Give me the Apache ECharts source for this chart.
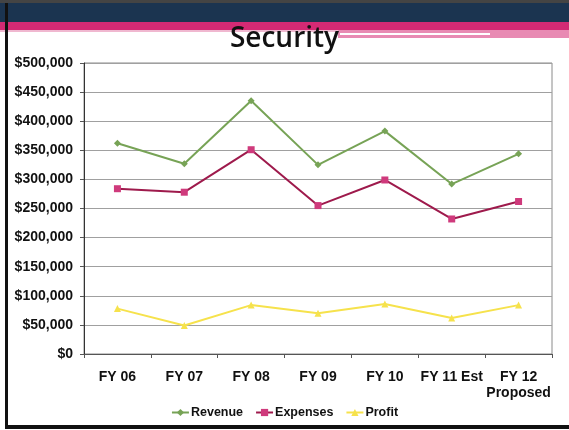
<!DOCTYPE html>
<html>
<head>
<meta charset="utf-8">
<script src="https://cdn.jsdelivr.net/npm/echarts@6/dist/echarts.min.js"></script>
<style>
html,body{margin:0;padding:0;background:#fff;}
#c{width:569px;height:430px;}
</style>
</head>
<body>
<div id="c"></div>
<script>
const categories = ['FY 06', 'FY 07', 'FY 08', 'FY 09', 'FY 10', 'FY 11 Est', 'FY 12\nProposed'];
const revenue  = [362000, 327000, 435000, 325000, 383000, 292000, 344000];
const expenses = [284000, 278000, 351000, 255000, 299000, 232000, 262000];
const profit   = [78000, 49000, 84000, 70000, 86000, 62000, 84000];
const yTicks = { min: 0, max: 500000, interval: 50000 };

const chart = echarts.init(document.getElementById('c'), null, { renderer: 'canvas' });

function money(v) {
  return '$' + String(v).replace(/\B(?=(\d{3})+(?!\d))/g, ',');
}

chart.setOption({
  backgroundColor: '#ffffff',
  animation: false,
  title: {
    text: 'Security',
    left: 'center',
    top: 20,
    z: 50,
    textStyle: { fontFamily: 'Open Sans', fontSize: 28, fontWeight: 600, color: '#111' }
  },
  graphic: [
    { type: 'rect', z: 1, shape: { x: 0, y: 0, width: 569, height: 3 }, style: { fill: '#444' } },
    { type: 'rect', z: 1, shape: { x: 0, y: 3, width: 569, height: 19 }, style: { fill: '#1b3450' } },
    { type: 'rect', z: 1, shape: { x: 0, y: 22, width: 569, height: 8 }, style: { fill: '#d42a74' } },
    { type: 'rect', z: 1, shape: { x: 0, y: 30, width: 569, height: 2 }, style: { fill: '#f0b8d0' } },
    { type: 'rect', z: 1, shape: { x: 338, y: 30, width: 231, height: 8 }, style: { fill: '#e88ab3' } },
    { type: 'rect', z: 2, shape: { x: 340, y: 33, width: 150, height: 2 }, style: { fill: '#ffffff' } },
    { type: 'rect', z: 2, shape: { x: 5, y: 3, width: 3, height: 425 }, style: { fill: '#111' } },
    { type: 'rect', z: 2, shape: { x: 5, y: 425, width: 564, height: 4 }, style: { fill: '#111' } }
  ],
  grid: {
    left: 84, right: 17, top: 63, bottom: 76,
    show: true, borderColor: '#8a8a8a', borderWidth: 1
  },
  legend: {
    bottom: 6,
    left: 'center',
    itemWidth: 17,
    itemHeight: 9,
    itemGap: 12,
    textStyle: { fontFamily: 'Liberation Sans', fontWeight: 'bold', fontSize: 12.5, color: '#111', padding: [0, 0, 0, -3] },
    data: ['Revenue', 'Expenses', 'Profit']
  },
  xAxis: {
    type: 'category',
    data: categories,
    boundaryGap: true,
    axisLine: { lineStyle: { color: '#555' } },
    axisTick: { show: true, length: 4, lineStyle: { color: '#555' } },
    axisLabel: {
      margin: 15,
      interval: 0,
      fontFamily: 'Liberation Sans', fontWeight: 'bold', fontSize: 14, color: '#111',
      lineHeight: 16
    }
  },
  yAxis: {
    type: 'value',
    min: yTicks.min, max: yTicks.max, interval: yTicks.interval,
    axisLine: { show: true, lineStyle: { color: '#333' } },
    axisTick: { show: true, length: 4, lineStyle: { color: '#555' } },
    splitLine: { lineStyle: { color: '#a0a0a0', width: 1 } },
    axisLabel: {
      margin: 11,
      formatter: money,
      fontFamily: 'Liberation Sans', fontWeight: 'bold', fontSize: 14, color: '#111'
    }
  },
  series: [
    {
      name: 'Revenue', type: 'line', data: revenue,
      symbol: 'diamond', symbolSize: 7,
      lineStyle: { color: '#77a356', width: 2 },
      itemStyle: { color: '#77a356' }
    },
    {
      name: 'Expenses', type: 'line', data: expenses,
      symbol: 'rect', symbolSize: 7,
      lineStyle: { color: '#9e1a4c', width: 2 },
      itemStyle: { color: '#cf3a7c' }
    },
    {
      name: 'Profit', type: 'line', data: profit,
      symbol: 'triangle', symbolSize: 7,
      lineStyle: { color: '#f6e24c', width: 2 },
      itemStyle: { color: '#f6e24c' }
    }
  ]
});
</script>
</body>
</html>
